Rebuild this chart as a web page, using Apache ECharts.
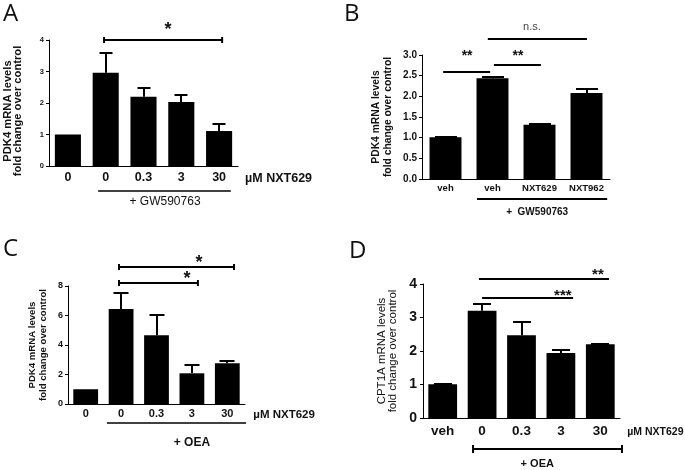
<!DOCTYPE html>
<html><head><meta charset="utf-8">
<script src="https://cdn.jsdelivr.net/npm/echarts@6/dist/echarts.min.js"></script>
<style>html,body{margin:0;padding:0;background:#fff}#c{width:685px;height:470px}</style>
</head><body><div id="c"></div>
<script>
// ---------- data ----------
const catsA = ['0', '0', '0.3', '3', '30'];
const meanA = [1.0, 2.96, 2.20, 2.03, 1.11];
const upperA = [null, 3.62, 2.52, 2.29, 1.36];
const ticksA = [0, 1, 2, 3, 4];

const catsB = ['veh', 'veh', 'NXT629', 'NXT962'];
const meanB = [1.01, 2.44, 1.31, 2.08];
const upperB = [1.04, 2.50, 1.35, 2.20];
const ticksB = ['0.0', '0.5', '1.0', '1.5', '2.0', '2.5', '3.0'];

const catsC = ['0', '0', '0.3', '3', '30'];
const meanC = [1.0, 6.44, 4.66, 2.08, 2.76];
const upperC = [null, 7.62, 6.12, 2.71, 2.98];
const ticksC = [0, 2, 4, 6, 8];

const catsD = ['veh', '0', '0.3', '3', '30'];
const meanD = [1.01, 3.20, 2.47, 1.94, 2.20];
const upperD = [1.04, 3.42, 2.89, 2.05, 2.25];
const ticksD = [0, 1, 2, 3, 4];

// significance annotations (category / value units)
const sigA = [{from: 0.955, to: 4.08, y: 4.0, text: '*', tx: 2.65, ty: 4.44}];
const sigB = [
  {from: -0.05, to: 0.95, y: 2.59, text: '**', tx: 0.46, ty: 3.05},
  {from: 1.03, to: 2.03, y: 2.76, text: '**', tx: 1.54, ty: 3.05},
  {from: 0.9, to: 3.01, y: 3.39, text: 'n.s.', tx: 1.84, ty: 3.68}
];
const sigC = [
  {from: 0.94, to: 4.19, y: 9.29, text: '*', tx: 3.2, ty: 9.83},
  {from: 0.94, to: 3.17, y: 8.2, text: '*', tx: 2.86, ty: 8.75}
];
const sigD = [
  {from: 0.92, to: 4.22, y: 4.15, text: '**', tx: 3.94, ty: 4.39},
  {from: 1.0, to: 3.31, y: 3.58, text: '***', tx: 3.05, ty: 3.76}
];
const groupA = {text: '+ GW590763', from: 0.8, to: 4.31, tx: 2.57};
const groupB = {text: '+  GW590763', from: 0.67, to: 3.44, tx: 1.95};
const groupC = {text: '+ OEA', from: 0.6, to: 4.53, tx: 3.0};
const groupD = {text: '+ OEA', from: 0.77, to: 4.55, tx: 2.4};
const unitLabel = 'µM NXT629';
const yNameA = 'PDK4 mRNA levels\nfold change over control';
const yNameB = 'PDK4 mRNA levels\nfold change over control';
const yNameC = 'PDK4 mRNA levels\nfold change over control';
const yNameD = 'CPT1A mRNA levels\nfold change over control';
const panelLetters = ['A', 'B', 'C', 'D'];

// ---------- styles ----------
const FF = 'Liberation Sans, Arial, sans-serif';
const grids = [
  {left: 49, top: 40, width: 189, height: 126},
  {left: 422, top: 55, width: 188, height: 124},
  {left: 68, top: 286, width: 177, height: 118},
  {left: 423, top: 284, width: 197, height: 134}
];
const st = [
  {barW: '69%', yFs: 7.5, xFs: 12.5, xMargin: 5, yMargin: 5, nameFs: 11.2, nameW: 'bold', nameLh: 10, nameGap: 26, namePad: [0,16,0,0],
   capW: 13, errLW: 2, sigLW: 2, caps: 3, starFont: 'bold 18px ' + FF, starShift: 4, nsFont: '11px ' + FF,
   grpDy: 25, grpLW: 1.5, grpCaps: 0, grpTextDy: 36, grpFont: '12px ' + FF, unitFont: 'bold 12.5px ' + FF, unitDx: 26},
  {barW: '68%', yFs: 10, xFs: 9.5, xMargin: 4, yMargin: 5, nameFs: 10.3, nameW: 'bold', nameLh: 11.6, nameGap: 28, namePad: [0,0,0,0],
   capW: 22, errLW: 2, sigLW: 2, caps: 0, starFont: 'bold 14px ' + FF, starShift: 3, nsFont: '11px ' + FF,
   grpDy: 20, grpLW: 2, grpCaps: 0, grpTextDy: 33, grpFont: 'bold 10px ' + FF, unitFont: null, unitDx: 0},
  {barW: '70%', yFs: 9, xFs: 11, xMargin: 4, yMargin: 5, nameFs: 9.6, nameW: 'bold', nameLh: 11, nameGap: 19.5, namePad: [0,0,0,0],
   capW: 15, errLW: 2, sigLW: 2, caps: 3, starFont: 'bold 18px ' + FF, starShift: 4, nsFont: '11px ' + FF,
   grpDy: 19, grpLW: 1.5, grpCaps: 0, grpTextDy: 39, grpFont: 'bold 12px ' + FF, unitFont: 'bold 11.5px ' + FF, unitDx: 26},
  {barW: '73%', yFs: 14, xFs: 13.5, xMargin: 6, yMargin: 6, nameFs: 11.5, nameW: 'normal', nameLh: 11.5, nameGap: 24, namePad: [0,0,0,0],
   capW: 18, errLW: 2, sigLW: 2, caps: 0, starFont: 'bold 15px ' + FF, starShift: 3.5, nsFont: '11px ' + FF,
   grpDy: 31, grpLW: 2, grpCaps: 4, grpTextDy: 46, grpFont: 'bold 11px ' + FF, unitFont: 'bold 10.5px ' + FF, unitDx: 27}
];

const panels = [
  {cats: catsA, mean: meanA, upper: upperA, ticks: ticksA, sig: sigA, group: groupA, yName: yNameA},
  {cats: catsB, mean: meanB, upper: upperB, ticks: ticksB.map(Number), sig: sigB, group: groupB, yName: yNameB, fmt: v => v.toFixed(1)},
  {cats: catsC, mean: meanC, upper: upperC, ticks: ticksC, sig: sigC, group: groupC, yName: yNameC},
  {cats: catsD, mean: meanD, upper: upperD, ticks: ticksD, sig: sigD, group: groupD, yName: yNameD}
];

function xAt(api, c) {
  const p0 = api.coord([0, 0]), p1 = api.coord([1, 0]);
  return p0[0] + c * (p1[0] - p0[0]);
}
function yAt(api, v) { return api.coord([0, v])[1]; }

const option = {
  animation: false,
  backgroundColor: '#fff',
  grid: grids.map(g => Object.assign({containLabel: false, outerBoundsMode: 'none'}, g)),
  xAxis: panels.map((p, i) => ({
    type: 'category', gridIndex: i, data: p.cats, boundaryGap: true,
    axisLine: {lineStyle: {color: '#000', width: 1}},
    axisTick: {show: false},
    axisLabel: {color: '#111', fontWeight: 'bold', fontSize: st[i].xFs, fontFamily: FF, margin: st[i].xMargin, interval: 0}
  })),
  yAxis: panels.map((p, i) => ({
    type: 'value', gridIndex: i,
    min: p.ticks[0], max: p.ticks[p.ticks.length - 1], interval: p.ticks[1] - p.ticks[0],
    splitLine: {show: false},
    axisLine: {show: true, lineStyle: {color: '#000', width: 1}},
    axisTick: {show: true, length: 3, lineStyle: {color: '#000'}},
    axisLabel: {color: '#111', fontWeight: 'bold', fontSize: st[i].yFs, fontFamily: FF, margin: st[i].yMargin,
      formatter: p.fmt ? p.fmt : (v => String(v))},
    name: p.yName, nameLocation: 'middle', nameRotate: 90, nameGap: st[i].nameGap,
    nameTextStyle: {color: '#111', fontWeight: st[i].nameW, fontSize: st[i].nameFs, fontFamily: FF,
      lineHeight: st[i].nameLh, align: 'center', padding: st[i].namePad}
  })),
  series: [],
  graphic: []
};

panels.forEach((p, i) => {
  const s = st[i];
  option.series.push({
    type: 'bar', xAxisIndex: i, yAxisIndex: i, data: p.mean, barWidth: s.barW,
    itemStyle: {color: '#000'}, silent: true, z: 2
  });
  const errData = [];
  p.mean.forEach((m, k) => { if (p.upper[k] != null) errData.push([k, m, p.upper[k]]); });
  option.series.push({
    type: 'custom', xAxisIndex: i, yAxisIndex: i, clip: false, silent: true, z: 3,
    data: errData,
    renderItem(params, api) {
      const k = api.value(0);
      const a = api.coord([k, api.value(1)]), b = api.coord([k, api.value(2)]);
      const x = Math.round(a[0]);
      const yt = Math.round(b[1]) + 1;
      return {type: 'group', children: [
        {type: 'line', shape: {x1: x, y1: a[1], x2: x, y2: yt}, style: {stroke: '#000', lineWidth: s.errLW}},
        {type: 'line', shape: {x1: x - s.capW / 2, y1: yt, x2: x + s.capW / 2, y2: yt}, style: {stroke: '#000', lineWidth: s.errLW}}
      ]};
    }
  });
  option.series.push({
    type: 'custom', xAxisIndex: i, yAxisIndex: i, clip: false, silent: true, z: 5,
    data: [[0, 0]],
    renderItem(params, api) {
      const ch = [];
      const y0 = yAt(api, 0);
      p.sig.forEach(g => {
        const x1 = xAt(api, g.from), x2 = xAt(api, g.to), y = Math.round(yAt(api, g.y));
        ch.push({type: 'line', shape: {x1, y1: y, x2, y2: y}, style: {stroke: '#000', lineWidth: s.sigLW}});
        if (s.caps) {
          ch.push({type: 'line', shape: {x1: x1, y1: y - s.caps, x2: x1, y2: y + s.caps}, style: {stroke: '#000', lineWidth: 2}});
          ch.push({type: 'line', shape: {x1: x2, y1: y - s.caps, x2: x2, y2: y + s.caps}, style: {stroke: '#000', lineWidth: 2}});
        }
        const isStar = g.text.indexOf('*') >= 0;
        ch.push({type: 'text', x: xAt(api, g.tx), y: yAt(api, g.ty) + (isStar ? s.starShift : 0),
          style: {text: g.text, font: isStar ? s.starFont : s.nsFont, fill: isStar ? '#111' : '#444',
            align: 'center', verticalAlign: 'middle'}});
      });
      const gr = p.group;
      const gx1 = xAt(api, gr.from), gx2 = xAt(api, gr.to), gy = Math.round(y0 + s.grpDy);
      ch.push({type: 'line', shape: {x1: gx1, y1: gy, x2: gx2, y2: gy}, style: {stroke: '#000', lineWidth: s.grpLW}});
      if (s.grpCaps) {
        ch.push({type: 'line', shape: {x1: gx1, y1: gy - s.grpCaps, x2: gx1, y2: gy + s.grpCaps}, style: {stroke: '#000', lineWidth: 2}});
        ch.push({type: 'line', shape: {x1: gx2, y1: gy - s.grpCaps, x2: gx2, y2: gy + s.grpCaps}, style: {stroke: '#000', lineWidth: 2}});
      }
      ch.push({type: 'text', x: xAt(api, gr.tx), y: y0 + s.grpTextDy,
        style: {text: gr.text, font: s.grpFont, fill: '#111', align: 'center', verticalAlign: 'middle'}});
      if (s.unitFont) {
        ch.push({type: 'text', x: xAt(api, p.cats.length - 1) + s.unitDx, y: y0 + s.xMargin + st[i].xFs / 2 + 1,
          style: {text: unitLabel, font: s.unitFont, fill: '#111', align: 'left', verticalAlign: 'middle'}});
      }
      return {type: 'group', children: ch};
    }
  });
});

const letterPos = [[3, 2], [344, 2], [3, 237], [349, 239]];
panelLetters.forEach((L, i) => {
  option.graphic.push({type: 'text', left: letterPos[i][0], top: letterPos[i][1],
    style: {text: L, font: '24px "Open Sans", sans-serif', fill: '#111'}});
});

const chart = echarts.init(document.getElementById('c'), null, {renderer: 'canvas'});
chart.setOption(option);
</script>
</body></html>
